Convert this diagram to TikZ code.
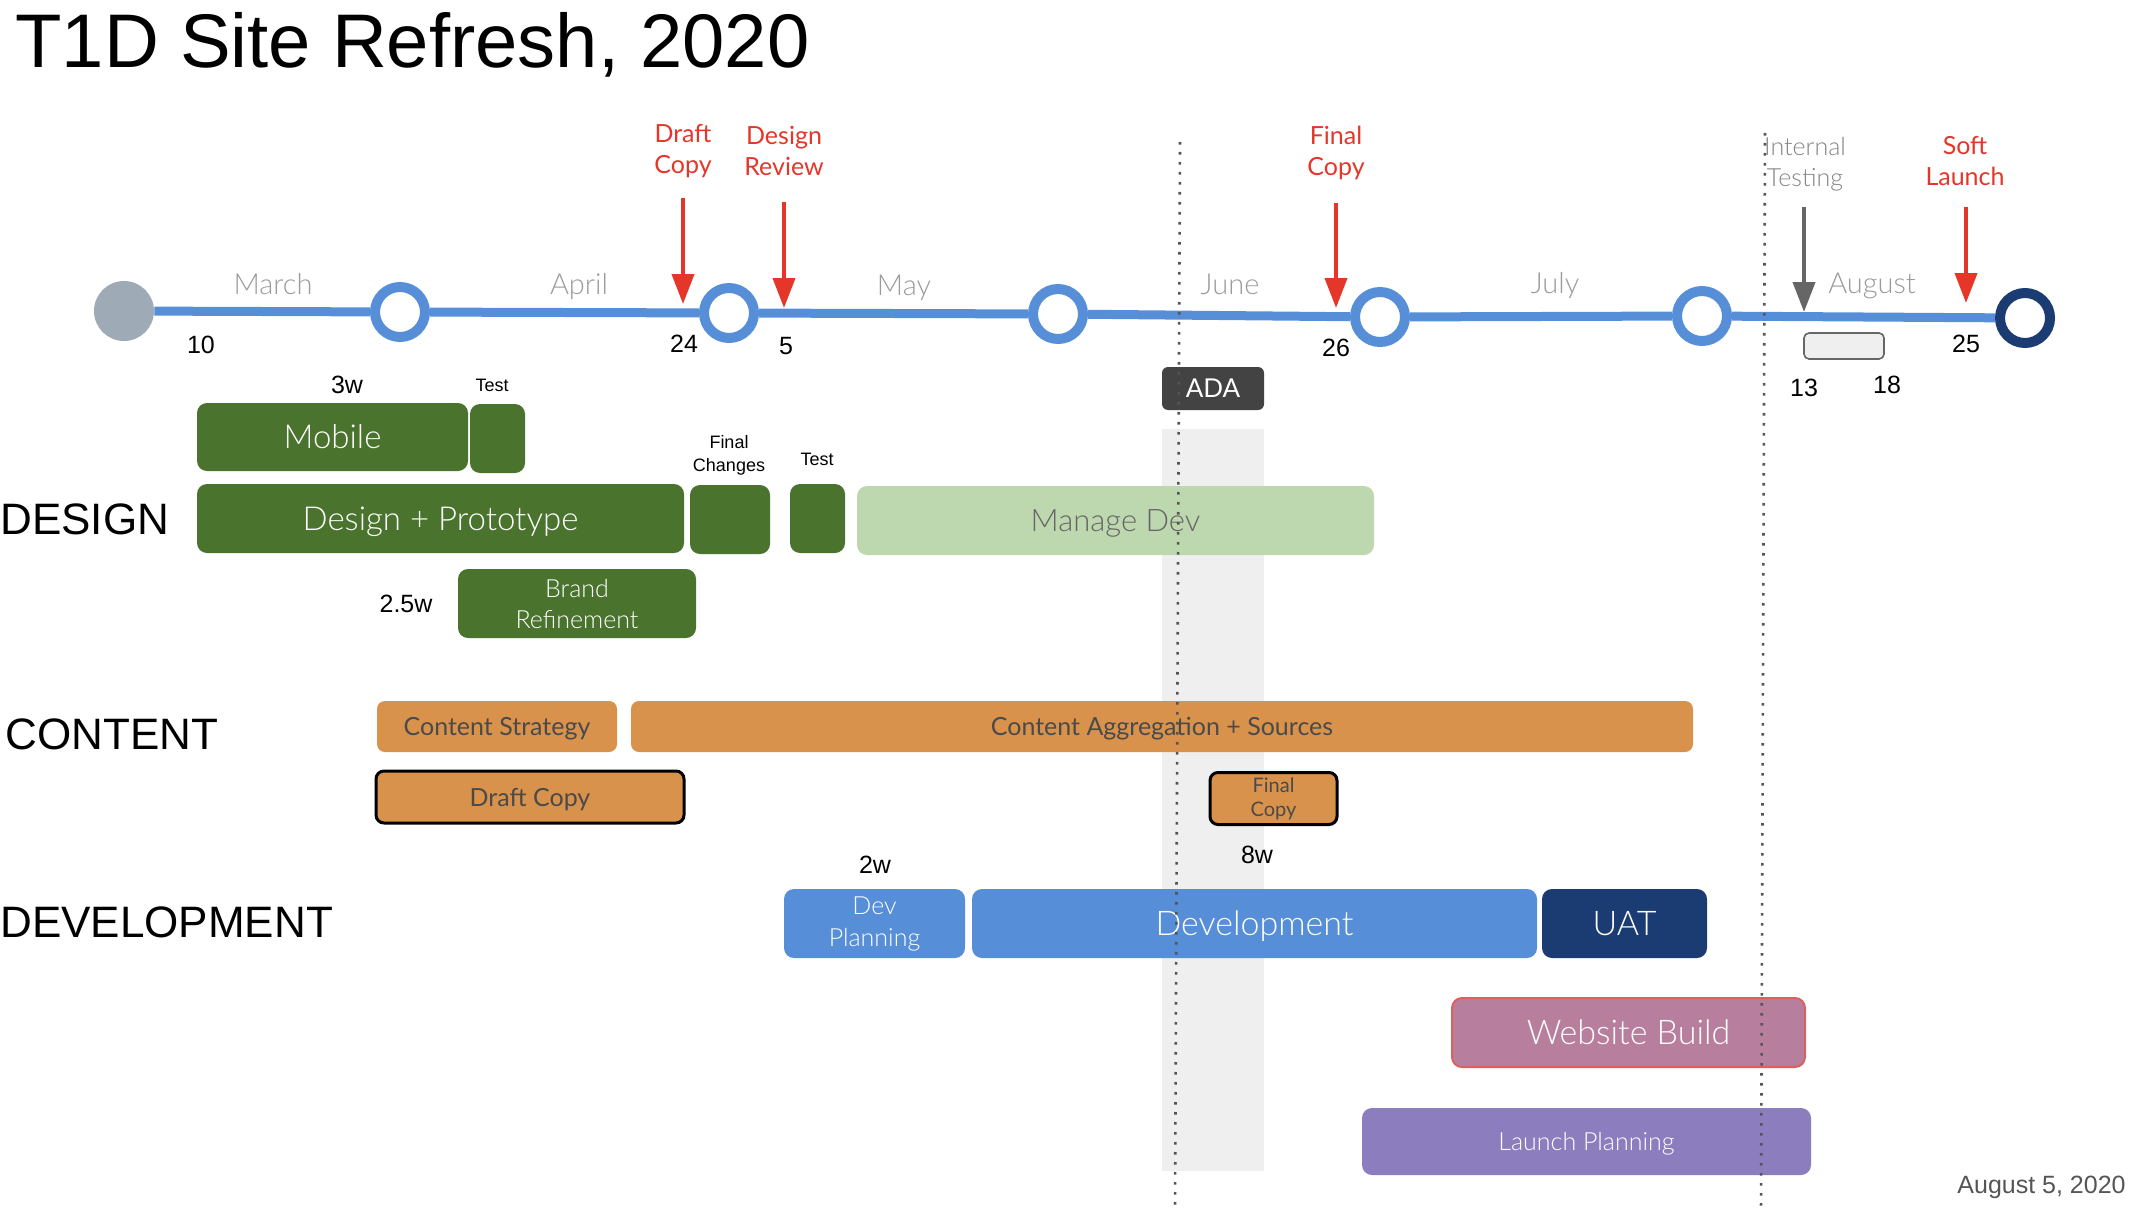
\documentclass[tikz,border=0pt]{standalone}
\usepackage{fontspec}
\setmainfont{Liberation Sans}
\IfFontExistsTF{Lato Light}{\newfontfamily\boxfont{Lato Light}}{\newfontfamily\boxfont{Lato}}
\newfontfamily\regfont{Lato}
\usetikzlibrary{arrows.meta,backgrounds}
\definecolor{tlblue}{HTML}{568ED8}
\definecolor{navy}{HTML}{1B3B73}
\definecolor{greyc}{HTML}{9FAAB7}
\definecolor{dgreen}{HTML}{4A732D}
\definecolor{lgreen}{HTML}{BDD7AE}
\definecolor{orng}{HTML}{D9924B}
\definecolor{mauve}{HTML}{B77F9D}
\definecolor{mauveb}{HTML}{D9625F}
\definecolor{purp}{HTML}{8C7EBE}
\definecolor{adaf}{HTML}{434343}
\definecolor{redc}{HTML}{E5362A}
\definecolor{bandg}{HTML}{EFEFEF}
\definecolor{monthg}{HTML}{9B9B9B}
\definecolor{dotc}{HTML}{555555}
\definecolor{txtd}{HTML}{4A4A4A}
\begin{document}
\begin{tikzpicture}[x=0.5pt,y=-0.5pt,
  ring/.style={circle,draw=tlblue,line width=5pt,fill=white,minimum size=25pt,inner sep=0pt},
  tl/.style={draw=tlblue,line width=4.5pt},
  box/.style={rounded corners=5pt,inner sep=0pt,align=center,text=white,font=\boxfont\fontsize{16.5}{19}\selectfont},
  big/.style={font=\boxfont\fontsize{16.5}{19}\selectfont,text height=11.8pt,text depth=0pt},
  bigger/.style={font=\boxfont\fontsize{17}{20}\selectfont,text height=12.2pt,text depth=0pt},
  midtxt/.style={font=\boxfont\fontsize{12.5}{15.5}\selectfont},
  midreg/.style={font=\regfont\fontsize{12.5}{15.5}\selectfont,text height=9pt,text depth=0pt},
  midlight/.style={font=\boxfont\fontsize{12.5}{15.5}\selectfont,text height=9pt,text depth=0pt},
  month/.style={anchor=base,inner sep=0pt,text=monthg,font=\boxfont\fontsize{14.5}{17}\selectfont},
  datenum/.style={anchor=base,inner sep=0pt,font=\fontsize{12.5}{15}\selectfont},
  redlbl/.style={anchor=center,inner sep=0pt,align=center,text=redc,font=\regfont\fontsize{12.5}{15.5}\selectfont},
  smalllbl/.style={inner sep=0pt,align=center,font=\fontsize{9}{11.5}\selectfont},
  weeklbl/.style={anchor=base,inner sep=0pt,font=\fontsize{12.5}{15}\selectfont},
  section/.style={anchor=west,inner sep=0pt,font=\fontsize{22}{25}\selectfont},
  redarrow/.style={draw=redc,line width=2pt,-{Triangle[width=11pt,length=15pt]}},
  greyarrow/.style={draw=dotc!90,line width=2pt,-{Triangle[width=11pt,length=15pt]}},
  dotline/.style={draw=dotc,line width=1.3pt,dash pattern=on 1.3pt off 3.7pt}
]
\useasboundingbox (0,0) rectangle (2134,1214);

% title
\node[anchor=base west,inner sep=0pt,font=\fontsize{38}{42}\selectfont] (title) at (15,68) {T1D Site Refresh, 2020};

% timeline circles
\node[circle,fill=greyc,minimum size=30pt,inner sep=0pt] (c1) at (124,311) {};
\node[ring] (c2) at (400,312) {};
\node[ring] (c3) at (729,313) {};
\node[ring] (c4) at (1058,314) {};
\node[ring] (c5) at (1380,317) {};
\node[ring] (c6) at (1702,316) {};
\node[ring,draw=navy] (c7) at (2025,318) {};

\begin{pgfonlayer}{background}
  \fill[bandg] (1162,429) rectangle (1264,1171);
  \draw[tl] (c1) -- (c2) -- (c3) -- (c4) -- (c5) -- (c6) -- (c7);
\end{pgfonlayer}

% months
\node[month] (march) at (273,294) {March};
\node[month] (april) at (579,294) {April};
\node[month] (may) at (904,295) {May};
\node[month] (june) at (1230,294) {June};
\node[month] (july) at (1555,293) {July};
\node[month] (august) at (1872,293) {August};

% dates
\node[datenum] (d10) at (201,353) {10};
\node[datenum] (d24) at (684,352) {24};
\node[datenum] (d5) at (786,354) {5};
\node[datenum] (d26) at (1336,356) {26};
\node[datenum] (d25) at (1966,352) {25};
\node[datenum] (d13) at (1804,396) {13};
\node[datenum] (d18) at (1887,393) {18};

% milestone labels
\node[redlbl] (draftl) at (683,151) {Draft\\Copy};
\node[redlbl] (desrevl) at (784,151) {Design\\Review};
\node[redlbl] (finall) at (1336,153) {Final\\Copy};
\node[redlbl] (softl) at (1965,161) {Soft\\Launch};
\node[redlbl,text=monthg!85!black,font=\boxfont\fontsize{12.5}{15.5}\selectfont] (intl) at (1805,164) {Internal\\Testing};

% milestone arrows
\coordinate (draftS) at (683,198); \coordinate (draftE) at (683,304);
\coordinate (desS) at (784,202); \coordinate (desE) at (784,308);
\coordinate (finS) at (1336,203); \coordinate (finE) at (1336,308);
\coordinate (softS) at (1966,207); \coordinate (softE) at (1966,303);
\coordinate (intS) at (1804,207); \coordinate (intE) at (1804,312);
\draw[redarrow] (draftS) -- (draftE);
\draw[redarrow] (desS) -- (desE);
\draw[redarrow] (finS) -- (finE);
\draw[redarrow] (softS) -- (softE);
\draw[greyarrow] (intS) -- (intE);

% internal testing box and ADA
\node[draw=dotc!90,fill=bandg,line width=0.8pt,rounded corners=2.5pt,minimum width=40pt,minimum height=13pt,inner sep=0pt] (itbox) at (1844,346) {};
\node[box,fill=adaf,minimum width=51pt,minimum height=21.5pt,rounded corners=3pt,midreg,font=\regfont\fontsize{13}{15.5}\selectfont] (ada) at (1213,388.5) {ADA};

% section labels
\node[section] (design) at (0,519) {DESIGN};
\node[section] (content) at (5,734) {CONTENT};
\node[section] (develop) at (0,922) {DEVELOPMENT};

% design boxes
\node[box,fill=dgreen,minimum width=135.5pt,minimum height=34pt,big] (mobile) at (332.5,437) {Mobile};
\node[box,fill=dgreen,minimum width=27.5pt,minimum height=34.5pt] (test1) at (497.5,438.5) {};
\node[box,fill=dgreen,minimum width=243.5pt,minimum height=34.5pt,big] (dproto) at (440.5,518.5) {Design + Prototype};
\node[box,fill=dgreen,minimum width=40pt,minimum height=34.5pt] (finchg) at (730,519.5) {};
\node[box,fill=dgreen,minimum width=27.5pt,minimum height=34.5pt] (test2) at (817.5,518.5) {};
\node[box,fill=lgreen,text=black!60,minimum width=258.5pt,minimum height=34.5pt,font=\boxfont\fontsize{15.5}{18}\selectfont,text height=11.1pt,text depth=0pt] (mdev) at (1115.5,520.5) {Manage Dev};
\node[box,fill=dgreen,minimum width=119pt,minimum height=34.5pt,midtxt] (brand) at (577,603.5) {Brand\\Refinement};

\node[smalllbl,anchor=base] (test1l) at (492,391) {Test};
\node[smalllbl,anchor=base] (test2l) at (817,465) {Test};
\node[smalllbl] (finchgl) at (729,455) {Final\\Changes};
\node[weeklbl] (w3) at (347,393) {3w};
\node[weeklbl] (w25) at (406,612) {2.5w};

% content boxes
\node[box,fill=orng,text=txtd,minimum width=120pt,minimum height=25.5pt,rounded corners=4pt,midreg] (cstrat) at (497,726.5) {Content Strategy};
\node[box,fill=orng,text=txtd,minimum width=531pt,minimum height=25.5pt,rounded corners=4pt,midreg] (cagg) at (1162,726.5) {Content Aggregation + Sources};
\node[box,fill=orng,draw=black,line width=1.5pt,text=txtd,minimum width=154pt,minimum height=26pt,rounded corners=4pt,midreg] (draftc) at (530,797) {Draft Copy};
\node[box,fill=orng,draw=black,line width=1.5pt,text=txtd,minimum width=63.5pt,minimum height=26pt,rounded corners=4pt,font=\regfont\fontsize{10}{12}\selectfont] (finalc) at (1273.5,798.5) {Final\\Copy};

% development boxes
\node[weeklbl] (w2) at (875,873) {2w};
\node[weeklbl] (w8) at (1257,863) {8w};
\node[box,fill=tlblue,minimum width=90.5pt,minimum height=34.5pt,font=\boxfont\fontsize{12.5}{16}\selectfont] (devplan) at (874.5,923.5) {Dev\\Planning};
\node[box,fill=tlblue,minimum width=282.5pt,minimum height=34.5pt,bigger] (dev) at (1254.5,923.5) {Development};
\node[box,fill=navy,minimum width=82.5pt,minimum height=34.5pt,bigger] (uat) at (1624.5,923.5) {UAT};
\node[box,fill=mauve,draw=mauveb,line width=1pt,minimum width=176.5pt,minimum height=34.5pt,bigger] (wbuild) at (1628.5,1032.5) {Website Build};
\node[box,fill=purp,minimum width=224.5pt,minimum height=33.5pt,midlight] (launch) at (1586.5,1141.5) {Launch Planning};

% date
\node[anchor=base east,inner sep=0pt,text=dotc,font=\fontsize{12.5}{15}\selectfont] (date) at (2126,1193) {August 5, 2020};

% dotted lines
\coordinate (dl1a) at (1180,142); \coordinate (dl1b) at (1175,1210);
\coordinate (dl2a) at (1765,133); \coordinate (dl2b) at (1761,1210);
\draw[dotline] (dl1a) -- (dl1b);
\draw[dotline] (dl2a) -- (dl2b);
\end{tikzpicture}
\end{document}
